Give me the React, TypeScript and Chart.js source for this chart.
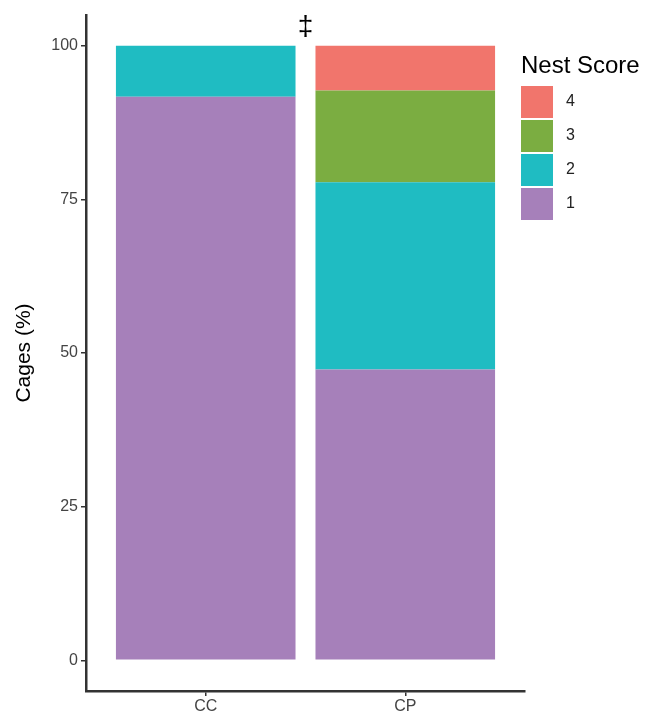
import React, { useEffect, useRef } from "react";
import Chart from "chart.js/auto";

const categories = ["CC", "CP"];
const scoreLabels = ["1", "2", "3", "4"];
const score1 = [91.7, 47.3];
const score2 = [8.3, 30.5];
const score3 = [0, 14.9];
const score4 = [0, 7.3];
const yTicks = [0, 25, 50, 75, 100];
const scoreColors = ["#A680BA", "#1FBCC2", "#7BAD41", "#F1756C"];
const legendTitle = "Nest Score";
const yTitle = "Cages (%)";
const annotationText = "\u2021";

const FONT = "'Liberation Sans', Arial, Helvetica, sans-serif";

export default function App() {
  const ref = useRef<HTMLCanvasElement | null>(null);

  useEffect(() => {
    if (!ref.current) return;
    const series = [score1, score2, score3, score4];
    const datasets = series.map((vals, si) => ({
      label: scoreLabels[si],
      data: categories.map((_, i) => ({ x: i + 1, y: vals[i] })),
      backgroundColor: scoreColors[si],
      borderWidth: 0,
      barPercentage: 0.9,
      categoryPercentage: 1,
    }));

    const overlay = {
      id: "overlay",
      afterDraw(chart: any) {
        const ctx = chart.ctx;
        ctx.save();
        const xs = chart.scales.x;
        ctx.fillStyle = "#000";
        ctx.font = `28px ${FONT}`;
        ctx.textAlign = "center";
        ctx.textBaseline = "middle";
        ctx.fillText(annotationText, xs.getPixelForValue(1.5), 27);
        const lx = 521;
        ctx.textAlign = "left";
        ctx.textBaseline = "middle";
        ctx.font = `24px ${FONT}`;
        ctx.fillStyle = "#000";
        ctx.fillText(legendTitle, lx, 66);
        const order = [3, 2, 1, 0];
        order.forEach((si, k) => {
          const y = 86 + k * 34;
          ctx.fillStyle = scoreColors[si];
          ctx.fillRect(lx, y, 32, 32);
          ctx.fillStyle = "#222";
          ctx.font = `16px ${FONT}`;
          ctx.fillText(scoreLabels[si], lx + 45, y + 16);
        });
        ctx.restore();
      },
    };

    const chart = new Chart(ref.current, {
      type: "bar",
      data: { datasets },
      options: {
        animation: false,
        responsive: false,
        events: [],
        layout: { padding: { top: 15, right: 125, left: 0, bottom: 0 } },
        plugins: { legend: { display: false }, tooltip: { enabled: false } },
        scales: {
          x: {
            type: "linear",
            min: 0.4,
            max: 2.6,
            stacked: true,
            offset: false,
            grid: { offset: false, drawOnChartArea: false, drawTicks: true, tickLength: 5, color: "#333", lineWidth: 1.5 },
            border: { display: true, color: "#333", width: 2.5 },
            ticks: {
              callback: (v: any) => categories[Number(v) - 1] ?? "",
              font: { size: 16, family: FONT },
              color: "#444",
              padding: 1,
              maxRotation: 0,
            },
            afterBuildTicks: (s: any) => {
              s.ticks = categories.map((_, i) => ({ value: i + 1 }));
            },
            afterFit: (s: any) => {
              s.height = 22;
            },
          },
          y: {
            min: -5,
            max: 105,
            stacked: true,
            grid: { drawOnChartArea: false, drawTicks: true, tickLength: 5, color: "#333", lineWidth: 1.5 },
            border: { display: true, color: "#333", width: 2.5 },
            ticks: {
              font: { size: 16, family: FONT },
              color: "#444",
              padding: 3,
            },
            afterBuildTicks: (s: any) => {
              s.ticks = yTicks.map((v) => ({ value: v }));
            },
            title: {
              display: true,
              text: yTitle,
              color: "#000",
              font: { size: 21, family: FONT },
              padding: { top: 12, bottom: 0 },
            },
            afterFit: (s: any) => {
              s.width = 86;
            },
          },
        },
      },
      plugins: [overlay],
    } as any);
    return () => chart.destroy();
  }, []);

  return (
    <div style={{ position: "absolute", left: 0, top: 0, width: 650, height: 713, background: "#fff" }}>
      <canvas ref={ref} width={650} height={713} style={{ display: "block" }} />
    </div>
  );
}
